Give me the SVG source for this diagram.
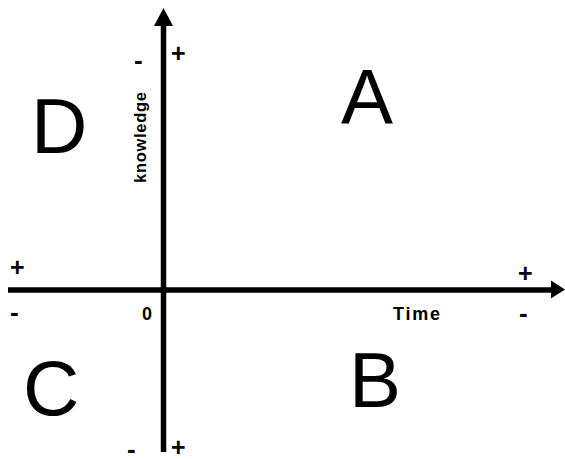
<svg xmlns="http://www.w3.org/2000/svg" width="565" height="459" viewBox="0 0 565 459">
<style>
.big{font-family:"Liberation Sans",Arial,sans-serif;font-size:78px;fill:#000}
.sg{font-family:"Liberation Sans",Arial,sans-serif;font-weight:bold;fill:#000}
.plus{font-size:25px}
.minus{font-size:26px}
.lbl{font-family:"Liberation Sans",Arial,sans-serif;font-weight:bold;fill:#000}
.axis{stroke:#000;stroke-width:5.5;fill:none}
</style>
<rect width="565" height="459" fill="#fff"/>
<g id="connectors">
<line class="axis" x1="163.5" y1="24" x2="163.5" y2="452"/>
<polygon points="163.5,8 154,26 173,26" fill="#000"/>
<line class="axis" x1="8" y1="290" x2="553" y2="290"/>
<polygon points="565,289.5 551,280.5 551,298.5" fill="#000"/>
</g>
<g id="A"><text class="big" x="341" y="124">A</text></g>
<g id="B"><text class="big" x="349" y="407">B</text></g>
<g id="C"><text class="big" x="23" y="415">C</text></g>
<g id="D"><text class="big" x="31" y="153">D</text></g>
<g id="axis-labels">
<text class="lbl" x="393" y="320" font-size="18" letter-spacing="1.8">Time</text>
<text class="lbl" font-size="16.5" letter-spacing="0.7" transform="translate(145.5,183) rotate(-90)">knowledge</text>
<text class="lbl" x="142" y="320" font-size="18">0</text>
</g>
<g id="signs">
<text class="sg minus" x="134" y="69">-</text>
<text class="sg plus" x="171" y="62">+</text>
<text class="sg plus" x="10" y="276">+</text>
<text class="sg minus" x="10" y="321">-</text>
<text class="sg plus" x="518" y="282">+</text>
<text class="sg minus" x="519" y="322">-</text>
<text class="sg minus" x="127" y="458">-</text>
<text class="sg plus" x="171" y="456">+</text>
</g>
</svg>
